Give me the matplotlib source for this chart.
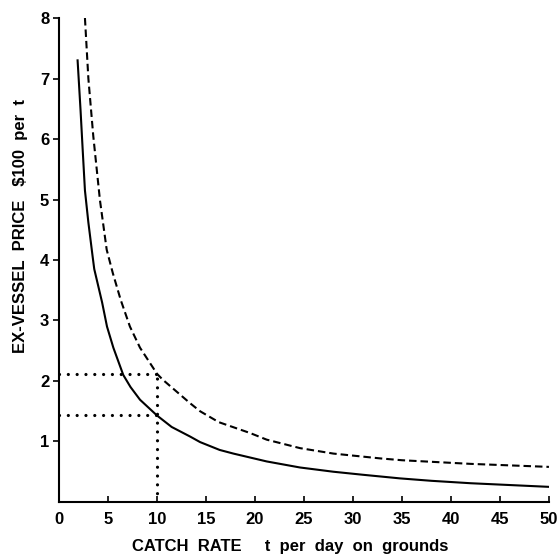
import matplotlib

matplotlib.use("Agg")
import matplotlib.pyplot as plt

plt.rcParams["font.family"] = ["Liberation Sans", "DejaVu Sans"]
plt.rcParams["font.weight"] = "bold"

# values
solid_x = [1.9, 2.2, 2.42, 2.65, 3.0, 3.44, 3.6, 4.4, 4.9, 5.55, 6.56, 7.3,
           8.27, 10.0, 11.5, 13.4, 14.4, 16.4, 17.8, 21.2, 24.6, 28.0, 31.0,
           34.8, 38.0, 42.0, 46.0, 50.0]
solid_y = [7.3, 6.48, 5.82, 5.15, 4.62, 4.05, 3.85, 3.3, 2.9, 2.55, 2.1, 1.9,
           1.69, 1.43, 1.24, 1.08, 0.99, 0.86, 0.80, 0.67, 0.57, 0.50, 0.45,
           0.39, 0.35, 0.31, 0.28, 0.25]

dashed_x = [2.65, 3.0, 3.5, 4.18, 4.87, 5.5, 6.3, 7.24, 8.27, 10.0, 10.6,
            13.4, 14.4, 16.3, 19.5, 21.2, 24.6, 28.0, 32.8, 35.0, 42.0, 50.0]
dashed_y = [8.0, 7.0, 6.05, 4.99, 4.17, 3.78, 3.34, 2.90, 2.55, 2.12, 2.02,
            1.63, 1.50, 1.32, 1.14, 1.03, 0.89, 0.80, 0.72, 0.69, 0.63, 0.58]

ref_rate = 10.0
ref_price_high = 2.12
ref_price_low = 1.44

x_ticks = list(range(0, 51, 5))
y_ticks = list(range(1, 9))

fig = plt.figure(figsize=(5.59, 5.58), dpi=100)
ax = fig.add_axes([0.1055, 0.1004, 0.8765, 0.8673])

ax.plot(solid_x, solid_y, color="black", lw=1.5, solid_joinstyle="round")
ax.plot(dashed_x, dashed_y, color="black", lw=1.5, linestyle=(0, (3.6, 1.9)))

dot_style = dict(color="black", lw=2.3, linestyle=(0, (0.01, 2.75)),
                 dash_capstyle="round")
ax.plot([0, ref_rate], [ref_price_high, ref_price_high], **dot_style)
ax.plot([0, ref_rate], [ref_price_low, ref_price_low], **dot_style)
ax.plot([ref_rate, ref_rate], [0, ref_price_high], **dot_style)

ax.set_xlim(0, 50)
ax.set_ylim(0, 8)
ax.set_xticks(x_ticks)
ax.set_yticks(y_ticks)
ax.tick_params(axis="x", direction="in", length=4, width=1.2, pad=7,
               labelsize=12)
ax.tick_params(axis="y", direction="out", length=4, width=1.2, pad=3,
               labelsize=12)

for side in ("top", "right"):
    ax.spines[side].set_visible(False)
for side in ("left", "bottom"):
    ax.spines[side].set_linewidth(1.5)

fig.text(0.519, 0.02, "CATCH  RATE     t  per  day  on  grounds",
         ha="center", va="center", fontsize=12, fontweight="bold")
fig.text(0.036, 0.595, "EX-VESSEL  PRICE   $100  per  t", ha="center",
         va="center", rotation=90, fontsize=12, fontweight="bold")

fig.savefig("out.png", dpi=100)
